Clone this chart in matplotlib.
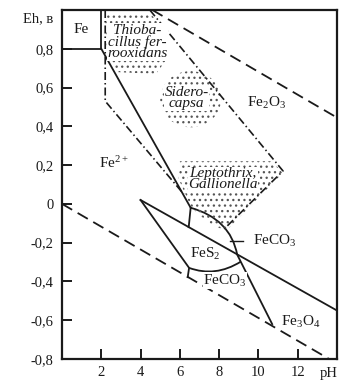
import matplotlib
matplotlib.use('Agg')
import matplotlib.pyplot as plt
from matplotlib.path import Path
from matplotlib.patches import PathPatch, Polygon, Ellipse

plt.rcParams['font.family'] = ['Liberation Serif', 'DejaVu Serif']
plt.rcParams['mathtext.fontset'] = 'custom'
plt.rcParams['mathtext.rm'] = 'Liberation Serif'
plt.rcParams['mathtext.it'] = 'Liberation Serif:italic'
plt.rcParams['hatch.linewidth'] = 0.9
plt.rcParams['hatch.color'] = '#555555'

# ---------------- data ----------------
ph_ticks = [2, 4, 6, 8, 10, 12]
ph_labels = ['2', '4', '6', '8', '10', '12']
eh_ticks = [-0.8, -0.6, -0.4, -0.2, 0.0, 0.2, 0.4, 0.6, 0.8]
eh_labels = ['-0,8', '-0,6', '-0,4', '-0,2', '0', '0,2', '0,4', '0,6', '0,8']

# water stability limits (dashed)
o2_ph = [4.6, 14.0]
o2_eh = [1.0, 0.445]
h2_ph = [0.0, 13.6]
h2_eh = [0.0, -0.80]

# metallic Fe field
fe_box_ph = [0.0, 2.0, 2.0]
fe_box_eh = [0.8, 0.8, 1.0]

# Fe2+ / Fe2O3 boundary
fe23_ph = [2.0, 6.55]
fe23_eh = [0.8, -0.02]

# FeS2 / FeCO3 wedge boundaries
wedge_up_ph = [4.0, 14.0]
wedge_up_eh = [0.02, -0.55]
wedge_lo_ph = [4.0, 6.47, 6.40]
wedge_lo_eh = [0.02, -0.33, -0.378]
steep_ph = [8.92, 10.7]
steep_eh = [-0.262, -0.62]
left_ph = [6.55, 6.45]
left_eh = [-0.02, -0.12]
upper_arc_ph = [6.55, 8.57, 8.92]      # start, control, end
upper_arc_eh = [-0.02, -0.077, -0.262]
lower_arc_ph = [6.47, 7.80, 9.10]
lower_arc_eh = [-0.33, -0.38, -0.298]
pointer_ph = [8.57, 9.23]
pointer_eh = [-0.19, -0.19]

# bacteria zone boundaries (dash-dot)
dd_left_ph = [2.2, 2.2, 6.2]
dd_left_eh = [1.0, 0.53, 0.05]
dd_right_ph = [4.47, 11.25, 8.25]
dd_right_eh = [1.0, 0.17, -0.13]

# stippled areas
thio_ph = [2.2, 4.52, 5.28, 5.43, 4.78, 2.76, 2.3]
thio_eh = [0.98, 0.98, 0.887, 0.76, 0.67, 0.68, 0.76]
sidero_center = (6.55, 0.54)
sidero_size = (3.1, 0.29)
lepto_ph = [6.0, 10.69, 11.24, 8.36, 7.66, 6.9, 6.55, 5.94]
lepto_eh = [0.22, 0.22, 0.16, -0.138, -0.11, -0.05, -0.01, 0.128]

# labels
field_labels = [
    ('Fe', 1.0, 0.9, 'center'),
    ('Fe$_2$O$_3$', 10.4, 0.52, 'center'),
    ('Fe$^{2+}$', 1.9, 0.21, 'left'),
    ('FeCO$_3$', 9.7, -0.19, 'left'),
    ('FeS$_2$', 7.3, -0.256, 'center'),
    ('FeCO$_3$', 8.3, -0.395, 'center'),
    ('Fe$_3$O$_4$', 12.17, -0.61, 'center'),
]
bact_labels = [
    ('Thioba-\ncillus fer-\nrooxidans', 3.85, 0.835, 'center'),
    ('Sidero-\ncapsa', 6.35, 0.545, 'center'),
    ('Leptothrix,\nGallionella', 8.18, 0.128, 'center'),
]

# ---------------- drawing ----------------
W, H = 349, 381
fig = plt.figure(figsize=(W / 100, H / 100), dpi=100)
ax = fig.add_axes([62 / W, 22 / H, 275 / W, 349 / H])
ax.set_xlim(0, 14)
ax.set_ylim(-0.8, 1.0)

ink = '#1a1a1a'
lw = 1.3

ax.plot(o2_ph, o2_eh, color=ink, lw=lw, linestyle=(0, (6.5, 3.5)))
ax.plot(h2_ph, h2_eh, color=ink, lw=lw, linestyle=(0, (6.5, 3.5)))
ax.plot(fe_box_ph, fe_box_eh, color=ink, lw=lw)
ax.plot(fe23_ph, fe23_eh, color=ink, lw=lw)
ax.plot(wedge_up_ph, wedge_up_eh, color=ink, lw=lw)
ax.plot(wedge_lo_ph, wedge_lo_eh, color=ink, lw=lw)
ax.plot(steep_ph, steep_eh, color=ink, lw=lw)
ax.plot(left_ph, left_eh, color=ink, lw=lw)
ax.plot(pointer_ph, pointer_eh, color=ink, lw=1.0)

for xs, ys in [(upper_arc_ph, upper_arc_eh), (lower_arc_ph, lower_arc_eh)]:
    p = Path(list(zip(xs, ys)), [Path.MOVETO, Path.CURVE3, Path.CURVE3])
    ax.add_patch(PathPatch(p, facecolor='none', edgecolor=ink, lw=lw))

dd = (0, (4.8, 1.8, 0.9, 1.8))
ax.plot(dd_left_ph, dd_left_eh, color=ink, lw=1.2, linestyle=dd)
ax.plot(dd_right_ph, dd_right_eh, color=ink, lw=1.2, linestyle=dd)

stip = '#555555'
ax.add_patch(Polygon(list(zip(thio_ph, thio_eh)), closed=True, fill=False,
                     hatch='...', lw=0, edgecolor=stip))
ax.add_patch(Ellipse(sidero_center, sidero_size[0], sidero_size[1], fill=False,
                     hatch='...', lw=0, edgecolor=stip))
ax.add_patch(Polygon(list(zip(lepto_ph, lepto_eh)), closed=True, fill=False,
                     hatch='...', lw=0, edgecolor=stip))

for txt, x, y, ha in field_labels:
    ax.text(x, y, txt, ha=ha, va='center', fontsize=11, color=ink,
            bbox=dict(facecolor='white', edgecolor='none', pad=0.3) if txt == 'FeCO$_3$' else None)
for txt, x, y, ha in bact_labels:
    ax.text(x, y, txt, ha=ha, va='center', fontsize=11, style='italic',
            color=ink, linespacing=0.85, multialignment='center',
            bbox=dict(facecolor='white', edgecolor='none', pad=0.2))

ax.set_xticks(ph_ticks)
ax.set_xticklabels(ph_labels)
ax.set_yticks(eh_ticks)
ax.set_yticklabels(eh_labels)
ax.tick_params(direction='in', length=7, width=1.4, labelsize=10.5, colors=ink)
ax.tick_params(axis='y', pad=6)
ax.tick_params(axis='x', pad=5)
for s in ax.spines.values():
    s.set_linewidth(1.6)
    s.set_color(ink)

ax.annotate('pH', xy=(13.6, -0.8), xytext=(0, -5.5), textcoords='offset points',
            ha='center', va='top', fontsize=10.5, color=ink, annotation_clip=False)
ax.annotate('Eh, в', xy=(0, 0.954), xytext=(-6.5, 0), textcoords='offset points',
            ha='right', va='center', fontsize=10.5, color=ink, annotation_clip=False)

fig.savefig('out.png', dpi=100, facecolor='white')
